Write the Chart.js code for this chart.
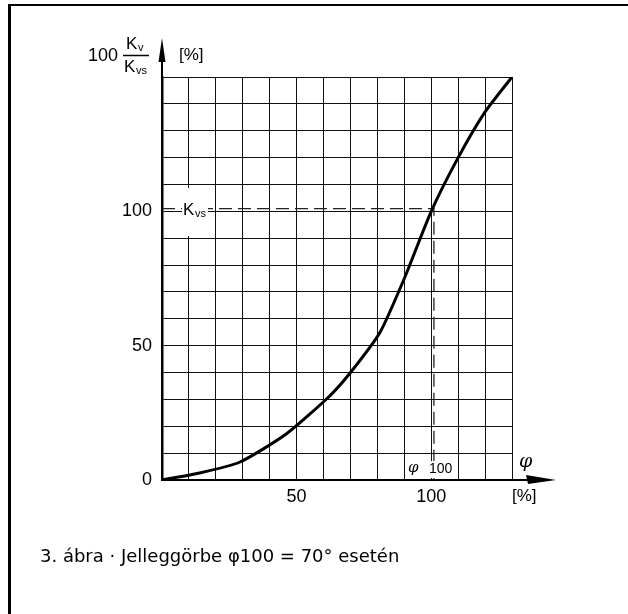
<!DOCTYPE html>
<html>
<head>
<meta charset="utf-8">
<script src="https://cdn.jsdelivr.net/npm/chart.js@4/dist/chart.umd.min.js"></script>
<style>
  html, body { margin: 0; padding: 0; background: #fff; }
  canvas { display: block; }
</style>
</head>
<body>
<canvas id="chart" width="628" height="614"></canvas>
<script>
const FONT = "'Liberation Sans', Arial, sans-serif";

// characteristic curve: opening angle [%] vs 100*Kv/Kvs [%]
const phi   = [0, 14, 29, 46, 62, 70, 81, 90, 100, 110, 120, 130];
const kvRel = [0, 2.6, 6.7, 17, 31, 40, 55, 75, 100, 120, 137, 150];

// Kvs reference (dashed) at phi100
const refX = [0, 101, 101];
const refY = [101, 101, 0];

const yLabels = [0, 50, 100];
const xLabels = [50, 100];

// ── overlay: arrows, axis titles, frame, caption ────────────────────────────
const overlay = {
  id: 'overlay',
  afterDatasetsDraw(chart) {
    const c = chart.ctx;
    const { x, y } = chart.scales;
    const x0 = x.getPixelForValue(0), y0 = y.getPixelForValue(0);
    c.save();
    c.fillStyle = '#000';
    c.strokeStyle = '#000';

    // frame (top + left)
    c.fillRect(8, 4, 620, 2);
    c.fillRect(8, 4, 3, 610);

    // y axis arrow
    c.lineWidth = 2;
    c.beginPath(); c.moveTo(x0, y.top); c.lineTo(x0, 60); c.stroke();
    c.beginPath();
    c.moveTo(x0, 38); c.lineTo(x0 + 3.5, 62); c.lineTo(x0 - 3.5, 62); c.closePath(); c.fill();

    // x axis arrow
    c.beginPath(); c.moveTo(x.right, y0); c.lineTo(528, y0); c.stroke();
    c.beginPath();
    c.moveTo(556, y0); c.lineTo(526, y0 - 5); c.lineTo(528, y0 + 4); c.closePath(); c.fill();

    // white boxes behind labels inside the grid
    c.fillStyle = '#fff';
    c.fillRect(182, 188, 26, 48);
    c.fillRect(407, 461, 49, 17);
    c.fillStyle = '#000';

    c.textBaseline = 'middle';
    // Kvs label
    c.textAlign = 'left';
    c.font = `17px ${FONT}`;
    c.fillText('K', 183, 210);
    c.font = `11px ${FONT}`;
    c.fillText('vs', 195, 214);

    // phi 100
    c.font = `italic 15px 'DejaVu Serif', serif`;
    c.fillText('φ', 408, 468);
    c.font = `14px ${FONT}`;
    c.fillText('100', 429, 469);

    // x axis title
    c.font = `italic 19px 'DejaVu Serif', serif`;
    c.fillText('φ', 519, 462);
    c.font = `17px ${FONT}`;
    c.fillText('[%]', 512, 496);

    // y axis title
    c.font = `18px ${FONT}`;
    c.textAlign = 'right';
    c.fillText('100', 118, 56);
    c.textAlign = 'left';
    c.font = `17px ${FONT}`;
    c.fillText('K', 126, 44);
    c.font = `11px ${FONT}`;
    c.fillText('v', 138, 48);
    c.font = `17px ${FONT}`;
    c.fillText('K', 124, 67);
    c.font = `11px ${FONT}`;
    c.fillText('vs', 136, 71);
    c.lineWidth = 1.5;
    c.beginPath(); c.moveTo(123, 55.5); c.lineTo(149, 55.5); c.stroke();
    c.font = `17px ${FONT}`;
    c.fillText('[%]', 179, 55);

    // caption
    c.font = `18px 'DejaVu Sans', sans-serif`;
    c.fillText('3. ábra · Jelleggörbe φ100 = 70° esetén', 40, 557);
    c.restore();
  }
};

new Chart(document.getElementById('chart'), {
  type: 'line',
  data: {
    datasets: [
      {
        data: phi.map((v, i) => ({ x: v, y: kvRel[i] })),
        borderColor: '#000',
        borderWidth: 3,
        pointRadius: 0,
        tension: 0.2,
      },
      {
        data: refX.map((v, i) => ({ x: v, y: refY[i] })),
        borderColor: '#222',
        borderWidth: 1.3,
        borderDash: [13, 6],
        pointRadius: 0,
        tension: 0,
      }
    ]
  },
  options: {
    responsive: false,
    animation: false,
    layout: { padding: { top: 77, right: 116, left: 0, bottom: 0 } },
    plugins: { legend: { display: false }, tooltip: { enabled: false } },
    scales: {
      x: {
        type: 'linear', min: 0, max: 130,
        afterFit: s => { s.height = 134; },
        grid: { color: '#111', lineWidth: 1, drawTicks: false },
        border: { color: '#000', width: 2 },
        ticks: {
          stepSize: 10, padding: 6, color: '#000', maxRotation: 0, autoSkip: false,
          font: { family: FONT, size: 18 },
          callback: v => xLabels.includes(v) ? String(v) : ''
        }
      },
      y: {
        type: 'linear', min: 0, max: 150,
        afterFit: s => { s.width = 162; },
        grid: { color: '#111', lineWidth: 1, drawTicks: false },
        border: { color: '#000', width: 2.5 },
        ticks: {
          stepSize: 10, padding: 10, color: '#000', autoSkip: false,
          font: { family: FONT, size: 18 },
          callback: v => yLabels.includes(v) ? String(v) : ''
        }
      }
    }
  },
  plugins: [overlay]
});
</script>
</body>
</html>
